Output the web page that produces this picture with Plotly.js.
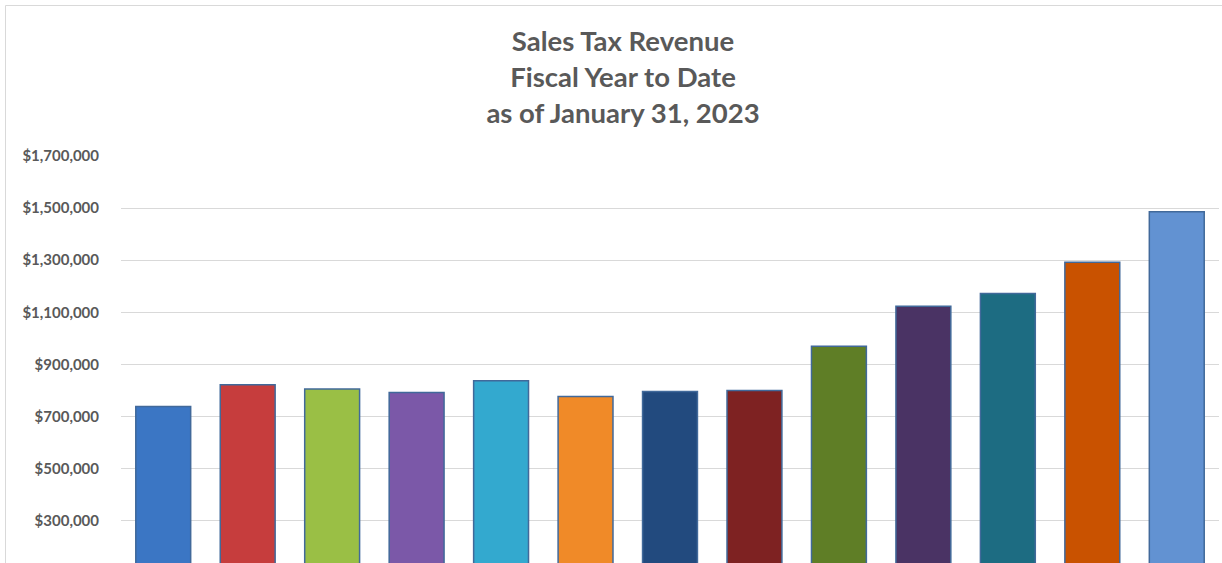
<!DOCTYPE html>
<html>
<head>
<meta charset="utf-8">
<script src="https://cdn.plot.ly/plotly-3.0.1.min.js"></script>
<style>html,body{margin:0;padding:0;background:#fff;}#chart{width:1222px;height:563px;}</style>
</head>
<body>
<div id="chart"></div>
<script>
const categories = ["FY2011","FY2012","FY2013","FY2014","FY2015","FY2016","FY2017","FY2018","FY2019","FY2020","FY2021","FY2022","FY2023"];
const revenue = [738000, 822000, 806000, 792000, 837000, 777000, 796000, 800000, 970000, 1123000, 1172000, 1292000, 1486000];
const barColors = ["#3B76C4","#C63D3D","#9ABF45","#7B58A8","#33A9CF","#F08A28","#224A7E","#7E2222","#5F7E26","#4A3364","#1D6C82","#C95200","#6292D2"];
const yTicks = [300000, 500000, 700000, 900000, 1100000, 1300000, 1500000, 1700000];
const yTickText = yTicks.map(v => "<b>$" + v.toLocaleString("en-US") + "</b>");
const titleText = "<b>Sales Tax Revenue<br>Fiscal Year to Date<br>as of January 31, 2023</b>";

const trace = {
  type: "bar",
  x: categories,
  y: revenue,
  marker: {color: barColors, line: {color: "#41699A", width: 1.5}},
  hoverinfo: "x+y"
};

const W = 1222, H = 563, L = 121, R = 3, T = 156, B = 0;
const pw = W - L - R, ph = H - T - B;
const px = p => (p - L) / pw;
const py = p => (H - B - p) / ph;

const layout = {
  width: W, height: H,
  margin: {l: L, r: R, t: T, b: B},
  paper_bgcolor: "#ffffff",
  plot_bgcolor: "#ffffff",
  showlegend: false,
  bargap: 0.35,
  title: {
    text: titleText,
    font: {family: "Lato, 'Open Sans', sans-serif", size: 27.5, color: "#595959"},
    x: 623 / W, xanchor: "center",
    y: 1 - 51 / H, yanchor: "top", yref: "container"
  },
  xaxis: {
    type: "category",
    showticklabels: false,
    showgrid: false, zeroline: false, showline: false, ticks: ""
  },
  yaxis: {
    range: [137600, 1700000],
    tickmode: "array",
    tickvals: yTicks,
    ticktext: yTickText,
    tickfont: {family: "Lato, 'Open Sans', sans-serif", size: 15, color: "#595959"},
    showgrid: true, gridcolor: "#D9D9D9", gridwidth: 1,
    zeroline: false, showline: false, ticks: "",
    ticklabelstandoff: 21
  },
  shapes: [
    {type: "line", xref: "paper", yref: "paper", x0: px(5.5), x1: px(1222), y0: py(5.5), y1: py(5.5), line: {color: "#D9D9D9", width: 1}},
    {type: "line", xref: "paper", yref: "paper", x0: px(5.5), x1: px(5.5), y0: py(5.5), y1: py(563), line: {color: "#D9D9D9", width: 1}}
  ]
};

Plotly.newPlot("chart", [trace], layout, {displayModeBar: false, staticPlot: true});
</script>
</body>
</html>
